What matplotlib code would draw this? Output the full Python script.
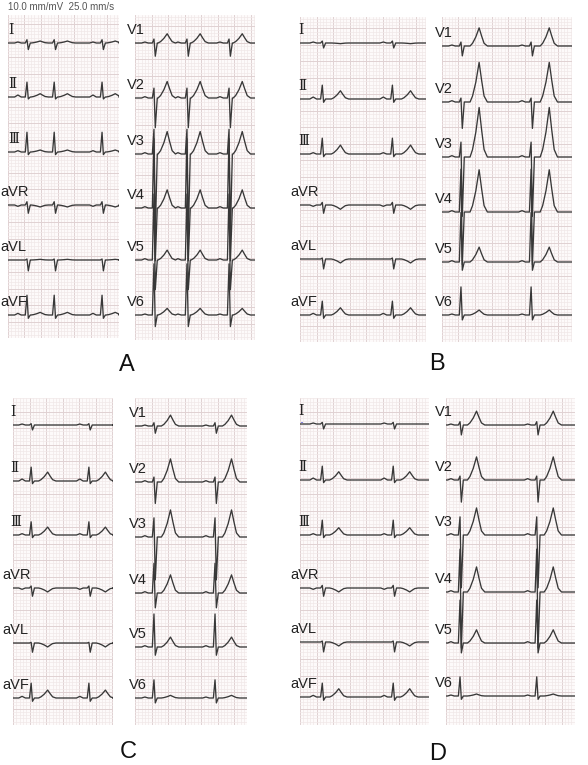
import matplotlib
matplotlib.use('Agg')
import matplotlib.pyplot as plt
from matplotlib.ticker import MultipleLocator

W, H = 588, 765
PX_PER_S = 82.5    # 25 mm/s at ~3.3 px per mm
PX_PER_MV = 33.0   # 10 mm/mV

LIMB_LEADS = ['Ⅰ', 'Ⅱ', 'Ⅲ', 'aVR', 'aVL', 'aVF']
PREC_LEADS = ['V1', 'V2', 'V3', 'V4', 'V5', 'V6']

# wave amplitudes in mV, lead order: I II III aVR aVL aVF V1 V2 V3 V4 V5 V6
P_AMP = [0.03, 0.06, 0.04, -0.04, 0.0, 0.05, 0.03, 0.04, 0.04, 0.04, 0.04, 0.03]

R_A = [0.10, 0.45, 0.60, 0.10, 0.03, 0.60, 0.12, 0.30, 0.75, 2.10, 2.00, 1.55]
S_A = [-0.20, -0.06, -0.08, -0.25, -0.33, -0.10, -0.40, -0.90, -2.40, -1.60, -0.90, -0.35]
T_A = [0.06, 0.10, 0.06, -0.06, 0.02, 0.08, 0.28, 0.50, 0.68, 0.55, 0.30, 0.20]

R_B = [0.06, 0.42, 0.48, 0.08, 0.03, 0.42, 0.12, 0.12, 0.45, 1.30, 1.50, 0.85]
S_B = [-0.15, -0.10, -0.08, -0.25, -0.30, -0.10, -0.30, -0.80, -1.80, -1.60, -0.25, -0.15]
T_B = [-0.02, 0.25, 0.27, -0.13, -0.12, 0.22, 0.55, 1.20, 1.50, 1.28, 0.45, 0.15]

R_C = [0.04, 0.42, 0.40, 0.06, 0.02, 0.45, 0.10, 0.15, 0.58, 0.90, 1.00, 0.55]
S_C = [-0.15, -0.08, -0.08, -0.25, -0.28, -0.10, -0.22, -0.65, -1.30, -0.45, -0.25, -0.15]
T_C = [0.00, 0.27, 0.24, -0.12, -0.12, 0.24, 0.33, 0.70, 0.82, 0.55, 0.30, 0.08]

R_D = [0.05, 0.42, 0.45, 0.08, 0.03, 0.42, 0.10, 0.12, 0.55, 1.30, 1.30, 0.58]
S_D = [-0.15, -0.08, -0.08, -0.25, -0.30, -0.10, -0.30, -0.67, -1.60, -1.70, -0.30, -0.10]
T_D = [0.00, 0.25, 0.22, -0.12, -0.12, 0.25, 0.42, 0.70, 0.82, 0.76, 0.40, 0.06]

# R-peak times (s) from the left edge of each strip
BEATS_A_LIMB = [0.23, 0.56, 1.14]
BEATS_A_PREC = [0.23, 0.63, 1.14]
BEATS_B_LIMB = [0.27, 1.12]
BEATS_B_PREC = [0.23, 1.08]
BEATS_C_LIMB = [0.22, 0.92]
BEATS_C_PREC = [0.23, 0.97]
BEATS_D_LIMB = [0.27, 1.13]
BEATS_D_PREC = [0.17, 1.10]

# R peak to T peak (s) per panel
T_DELAY = {'A': 0.16, 'B': 0.22, 'C': 0.20, 'D': 0.20}

# T wave outline relative to its peak
T_SHAPE_T = [-0.11, -0.08, -0.04, 0.0, 0.03, 0.06, 0.10]
T_SHAPE_F = [0.0, 0.15, 0.5, 1.0, 0.55, 0.15, 0.0]

# strip layout in pixels: (left, top, right, bottom), baselines y
STRIPS = {
    'A': {'limb': ((8, 15, 119, 338), [43, 97, 152, 205, 260, 315]),
          'prec': ((135, 15, 255, 340), [43, 98, 154, 208, 260, 315])},
    'B': {'limb': ((300, 17, 426, 342), [43, 99, 154, 205, 259, 315]),
          'prec': ((442, 17, 572, 342), [46, 102, 157, 212, 262, 315])},
    'C': {'limb': ((13, 398, 113, 725), [425, 481, 535, 588, 643, 698]),
          'prec': ((135, 398, 247, 725), [426, 482, 537, 593, 647, 698])},
    'D': {'limb': ((300, 398, 429, 725), [424, 480, 535, 588, 642, 697]),
          'prec': ((446, 398, 575, 725), [425, 480, 535, 592, 643, 696])},
}
LABEL_X = {'A': (8, 127), 'B': (298, 435), 'C': (10, 129), 'D': (298, 435)}
LETTER_POS = {'A': (127, 365), 'B': (437, 364), 'C': (128, 752), 'D': (438, 754)}

AMPS = {'A': (R_A, S_A, T_A), 'B': (R_B, S_B, T_B), 'C': (R_C, S_C, T_C), 'D': (R_D, S_D, T_D)}
BEATS = {'A': (BEATS_A_LIMB, BEATS_A_PREC), 'B': (BEATS_B_LIMB, BEATS_B_PREC),
         'C': (BEATS_C_LIMB, BEATS_C_PREC), 'D': (BEATS_D_LIMB, BEATS_D_PREC)}

TRACE = '#383838'


def lead_trace(beats, p, r, s, t, tdelay, tmax):
    ts, vs = [0.0], [0.0]
    for tr in beats:
        bt = [tr - 0.15, tr - 0.11, tr - 0.07, tr - 0.02, tr, tr + 0.016, tr + 0.04]
        bv = [0.0, p, 0.0, 0.0, r, s, 0.0]
        for dt, f in zip(T_SHAPE_T, T_SHAPE_F):
            bt.append(tr + tdelay + dt)
            bv.append(t * f)
        for a, b in zip(bt, bv):
            if a > ts[-1]:
                ts.append(a)
                vs.append(b)
    ts.append(tmax)
    vs.append(0.0)
    return ts, vs


def make_strip(fig, box, baselines, leads, lead_idx, panel, beats, label_x):
    left, top, right, bottom = box
    ax = fig.add_axes([left / W, 1 - bottom / H, (right - left) / W, (bottom - top) / H])
    tmax = (right - left) / PX_PER_S
    ymax = (bottom - top) / PX_PER_MV
    ax.set_xlim(0, tmax)
    ax.set_ylim(0, ymax)
    ax.set_facecolor('#fdfafa')
    ax.xaxis.set_major_locator(MultipleLocator(0.2))
    ax.xaxis.set_minor_locator(MultipleLocator(0.04))
    ax.yaxis.set_major_locator(MultipleLocator(0.5))
    ax.yaxis.set_minor_locator(MultipleLocator(0.1))
    ax.grid(which='minor', color='#f1e8e8', linewidth=0.5)
    ax.grid(which='major', color='#e0d1d2', linewidth=0.7)
    ax.set_axisbelow(True)
    ax.tick_params(which='both', length=0, labelbottom=False, labelleft=False)
    for sp in ax.spines.values():
        sp.set_visible(False)

    R, S, T = AMPS[panel]
    for k, (name, base_px) in enumerate(zip(leads, baselines)):
        i = lead_idx + k
        ts, vs = lead_trace(beats, P_AMP[i], R[i], S[i], T[i], T_DELAY[panel], tmax)
        base = (bottom - base_px) / PX_PER_MV
        ax.plot(ts, [v + base for v in vs], color=TRACE, linewidth=0.95,
                solid_joinstyle='round')
        x = label_x - 8 if name.startswith('a') else label_x
        if name in LIMB_LEADS[:3]:
            fam, fs = ['DejaVu Serif', 'DejaVu Sans'], 10
        else:
            fam, fs = ['Liberation Sans'], 10.5
        fig.text(x / W, 1 - (base_px - 13) / H, name, fontsize=fs, color='#222222',
                 family=fam, va='center', ha='left')
    return ax


fig = plt.figure(figsize=(W / 100, H / 100), dpi=100)
fig.patch.set_facecolor('white')

for panel in ['A', 'B', 'C', 'D']:
    limb_box, limb_base = STRIPS[panel]['limb']
    prec_box, prec_base = STRIPS[panel]['prec']
    lx, px = LABEL_X[panel]
    make_strip(fig, limb_box, limb_base, LIMB_LEADS, 0, panel, BEATS[panel][0], lx)
    make_strip(fig, prec_box, prec_base, PREC_LEADS, 6, panel, BEATS[panel][1], px)
    cx, cy = LETTER_POS[panel]
    fig.text(cx / W, 1 - cy / H, panel, fontsize=17, family='Liberation Sans',
             ha='center', va='center', color='#111111')

fig.text(8 / W, 1 - 7 / H, '10.0 mm/mV  25.0 mm/s', fontsize=7,
         family='Liberation Sans', color='#555555', va='center', ha='left')

# small blue marker at the start of lead I in panel D
fig.text(302 / W, 1 - 424 / H, '·', fontsize=9, color='#3333cc', ha='center', va='center')

fig.savefig('out.png', dpi=100, facecolor='white')
